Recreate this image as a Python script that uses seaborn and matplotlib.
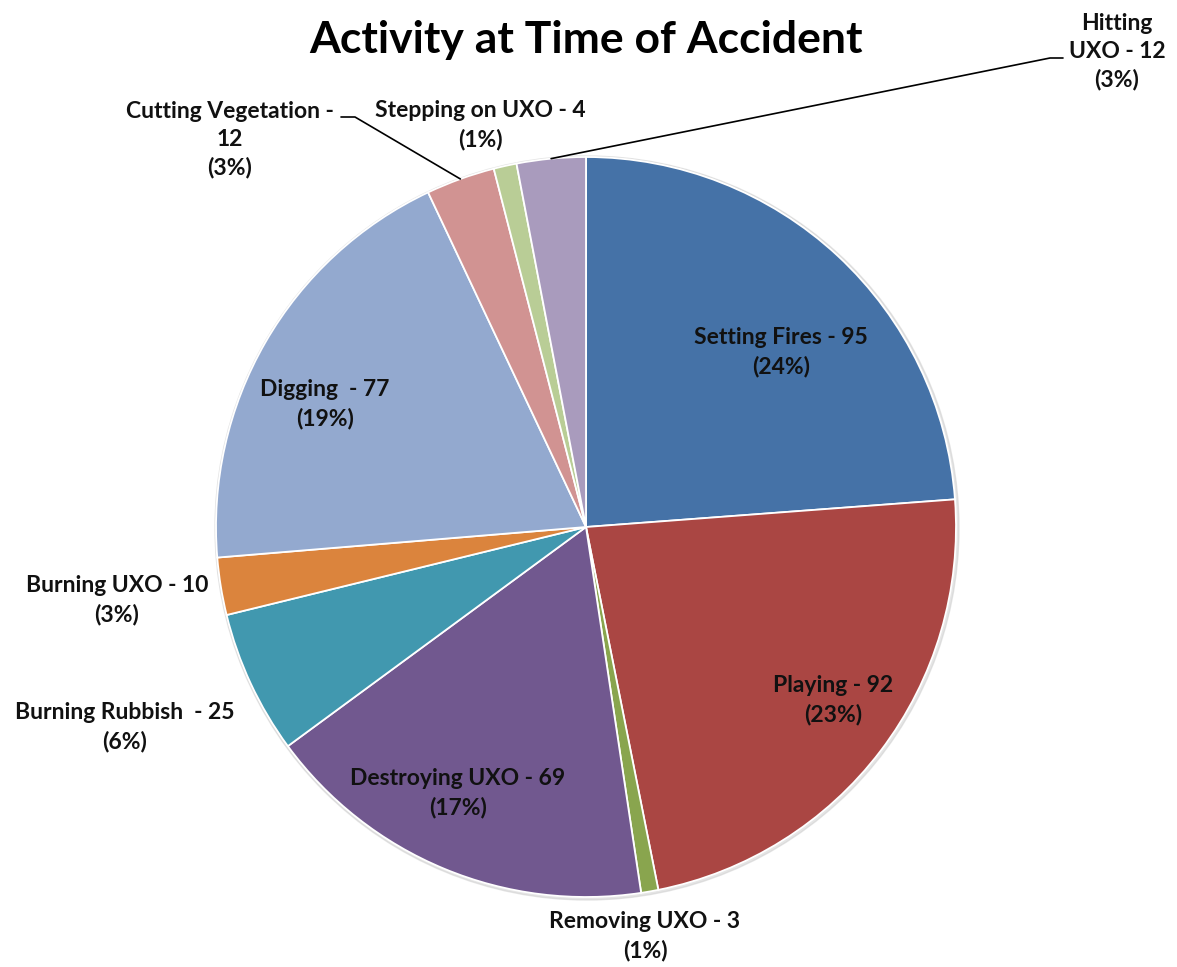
import numpy as np
import matplotlib
matplotlib.use("Agg")
import matplotlib.pyplot as plt
import seaborn as sns

# data
activities = ['Setting Fires', 'Playing', 'Removing UXO', 'Destroying UXO', 'Burning Rubbish ',
              'Burning UXO', 'Digging ', 'Cutting Vegetation', 'Stepping on UXO', 'Hitting UXO']
counts = [95, 92, 3, 69, 25, 10, 77, 12, 4, 12]
colors = ['#4572A7', '#AA4643', '#89A54E', '#71588F', '#4198AF',
          '#DB843D', '#93A9CF', '#D19392', '#B9CD96', '#A99BBD']

sns.set_theme(style='white')
plt.rcParams['font.family'] = ['Lato', 'DejaVu Sans']

W, H = 1177, 967
fig = plt.figure(figsize=(W / 100, H / 100), dpi=100)
ax = fig.add_axes([0, 0, 1, 1])

cx, cy, r = 586, H - 527, 370

# faint shadow ring behind the pie
ax.add_patch(plt.Circle((cx + 1, cy - 1), r + 2, color='#cccccc', alpha=0.5, zorder=0))

wedges, _ = ax.pie(counts, colors=colors, startangle=90, counterclock=False,
                   center=(cx, cy), radius=r,
                   wedgeprops=dict(edgecolor='white', linewidth=1.3))

total = sum(counts)
pcts = [round(c / total * 100) for c in counts]

# label text, line breaks as in the original
texts = []
for a, c, p in zip(activities, counts, pcts):
    if a == 'Cutting Vegetation':
        texts.append(f'{a} -\n{c}\n({p}%)')
    elif a == 'Hitting UXO':
        texts.append(f'Hitting\nUXO - {c}\n({p}%)')
    else:
        texts.append(f'{a} - {c}\n({p}%)')

# label centres in pixel coords (from top-left)
label_xy = [(781, 352), (833, 700), (645, 936), (458, 793), (125, 727),
            (117, 600), (325, 404), (230, 140), (480, 125), (1117, 52)]

for t, (x, y) in zip(texts, label_xy):
    ax.text(x, H - y, t, ha='center', va='center', fontsize=16.5,
            fontweight='bold', color='#111111', linespacing=1.4)

# leader lines for the two labels sitting far from their slices
def mid_point(w, rad):
    ang = np.deg2rad((w.theta1 + w.theta2) / 2)
    return cx + rad * np.cos(ang), cy + rad * np.sin(ang)

ex, ey = mid_point(wedges[7], r)
ax.plot([341, 355, ex], [H - 117, H - 117, ey], color='black', lw=1.2)
ex, ey = mid_point(wedges[9], r)
ax.plot([1063, 1050, ex], [H - 58, H - 58, ey], color='black', lw=1.2)

ax.text(586, H - 40, 'Activity at Time of Accident', ha='center', va='center',
        fontsize=32, fontweight='bold', color='black')

ax.set_xlim(0, W)
ax.set_ylim(0, H)
ax.set_aspect('equal')
ax.axis('off')

fig.savefig('out.png', dpi=100, facecolor='white')
